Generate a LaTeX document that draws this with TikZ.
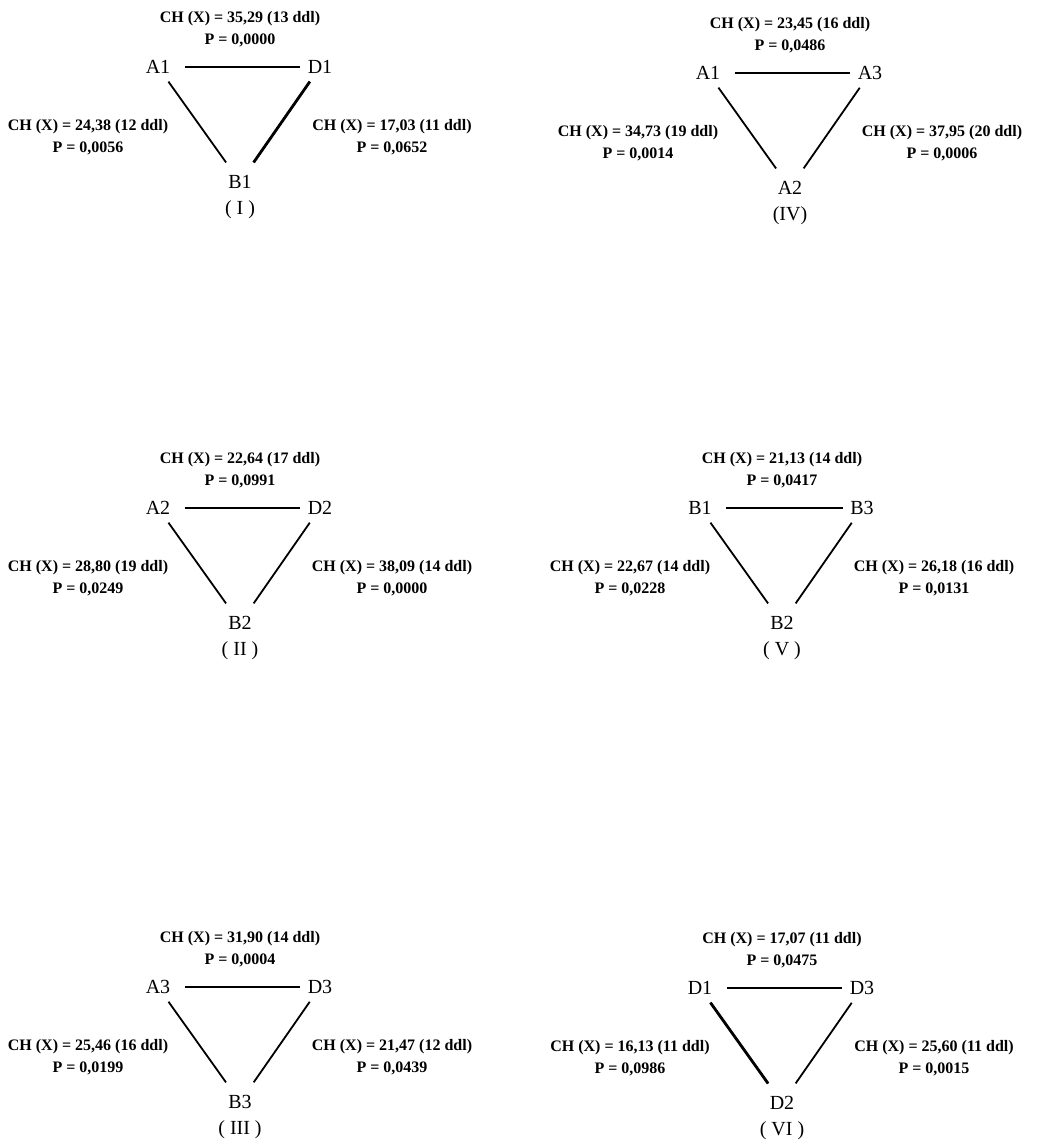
\documentclass[tikz,border=0pt]{standalone}
\usepackage{fontspec}
\setmainfont{Liberation Serif}

% one triangle: shift, name, left, right, bottom, number, top/left/right statistics
\newcommand{\tri}[9]{%
\begin{scope}[shift={#1}]
\node[vertex] (#2-l) at (-82,-115) {#3};
\node[vertex] (#2-r) at (80,-115) {#4};
\node[vertex] (#2-b) at (0,0) {#5};
\node[vertex] (#2-n) at (0,28) {#6};
\node[stat] (#2-top) at (0,-153) {#7};
\node[stat] (#2-left) at (-152,-45) {#8};
\node[stat] (#2-right) at (152,-45) {#9};
\draw[edge, shorten >=0.5pt] (#2-l) -- (#2-r);
\draw[edge, shorten <=1pt] (#2-l) -- (#2-b);
\draw[edge, shorten <=1pt] (#2-r) -- (#2-b);
\end{scope}}

\begin{document}
\begin{tikzpicture}[x=0.5pt,y=-0.5pt]
\tikzset{vertex/.style={font=\fontsize{10}{12}\selectfont, inner sep=3pt},
         stat/.style={font=\bfseries\fontsize{8}{11}\selectfont, align=center, inner sep=0pt},
         edge/.style={line width=0.9pt, shorten <=4pt, shorten >=4pt},
         thick edge/.style={line width=1.4pt}}
\useasboundingbox (0,0) rectangle (1040,1144);

\tri{(240,182)}{I}{A1}{D1}{B1}{( I )}
    {CH (X) = 35,29 (13 ddl)\\P = 0,0000}
    {CH (X) = 24,38 (12 ddl)\\P = 0,0056}
    {CH (X) = 17,03 (11 ddl)\\P = 0,0652}
\tri{(240,623)}{II}{A2}{D2}{B2}{( II )}
    {CH (X) = 22,64 (17 ddl)\\P = 0,0991}
    {CH (X) = 28,80 (19 ddl)\\P = 0,0249}
    {CH (X) = 38,09 (14 ddl)\\P = 0,0000}
\tri{(240,1102)}{III}{A3}{D3}{B3}{( III )}
    {CH (X) = 31,90 (14 ddl)\\P = 0,0004}
    {CH (X) = 25,46 (16 ddl)\\P = 0,0199}
    {CH (X) = 21,47 (12 ddl)\\P = 0,0439}
\tri{(790,188)}{IV}{A1}{A3}{A2}{(IV)}
    {CH (X) = 23,45 (16 ddl)\\P = 0,0486}
    {CH (X) = 34,73 (19 ddl)\\P = 0,0014}
    {CH (X) = 37,95 (20 ddl)\\P = 0,0006}
\tri{(782,623)}{V}{B1}{B3}{B2}{( V )}
    {CH (X) = 21,13 (14 ddl)\\P = 0,0417}
    {CH (X) = 22,67 (14 ddl)\\P = 0,0228}
    {CH (X) = 26,18 (16 ddl)\\P = 0,0131}
\tri{(782,1103)}{VI}{D1}{D3}{D2}{( VI )}
    {CH (X) = 17,07 (11 ddl)\\P = 0,0475}
    {CH (X) = 16,13 (11 ddl)\\P = 0,0986}
    {CH (X) = 25,60 (11 ddl)\\P = 0,0015}

% heavier strokes
\draw[edge, thick edge, shorten <=1pt] (I-r) -- (I-b);
\draw[edge, thick edge, shorten >=0.5pt] (II-l) -- (II-r);
\draw[edge, thick edge, shorten <=1pt] (VI-l) -- (VI-b);

\end{tikzpicture}
\end{document}
